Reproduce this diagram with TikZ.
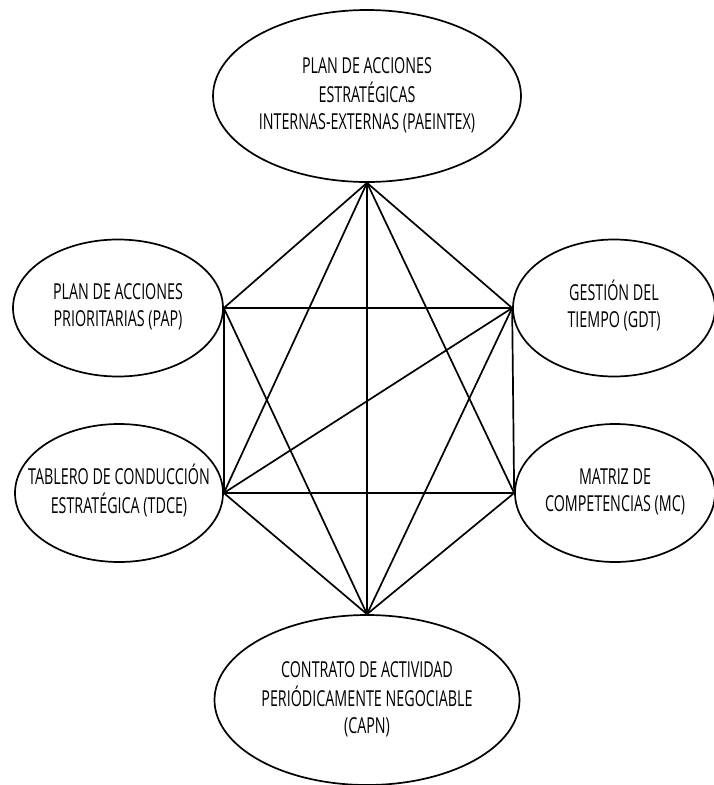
\documentclass[tikz,border=0pt]{standalone}
\usepackage{fontspec}
\setmainfont[FakeStretch=0.65]{Open Sans}
\usetikzlibrary{shapes.geometric}
\newcommand{\etiq}[1]{\makebox[0pt]{\begin{tabular}{@{}c@{}}#1\end{tabular}}}
\begin{document}
\begin{tikzpicture}[x=1pt, y=-1pt, line width=1.7pt,
    herr/.style={draw, ellipse, inner sep=0pt, font=\fontsize{22}{27}\selectfont}]
    \useasboundingbox (0,0) rectangle (713,785);

    \node[herr, minimum width=308pt, minimum height=172pt] (paeintex) at (367,96)
        {\etiq{PLAN DE ACCIONES\\ESTRATÉGICAS\\INTERNAS-EXTERNAS (PAEINTEX)}};
    \node[herr, minimum width=210pt, minimum height=137pt] (pap) at (118,308)
        {\etiq{PLAN DE ACCIONES\\PRIORITARIAS (PAP)}};
    \node[herr, minimum width=202pt, minimum height=137pt] (gdt) at (614,308)
        {\etiq{GESTIÓN DEL\\TIEMPO (GDT)}};
    \node[herr, minimum width=208pt, minimum height=138pt] (tdce) at (119,493)
        {\etiq{TABLERO DE CONDUCCIÓN\\ESTRATÉGICA (TDCE)}};
    \node[herr, minimum width=200pt, minimum height=138pt] (mc) at (615,493)
        {\etiq{MATRIZ DE\\COMPETENCIAS (MC)}};
    \node[herr, minimum width=305pt, minimum height=170pt] (capn) at (367,700)
        {\etiq{CONTRATO DE ACTIVIDAD\\PERIÓDICAMENTE NEGOCIABLE\\(CAPN)}};

    \foreach \a/\b in {paeintex.south/pap.east, paeintex.south/gdt.west,
        paeintex.south/tdce.east, paeintex.south/mc.west, paeintex.south/capn.north,
        pap.east/gdt.west, pap.east/tdce.east, gdt.west/mc.west, tdce.east/mc.west,
        tdce.east/gdt.west, pap.east/capn.north, gdt.west/capn.north,
        tdce.east/capn.north, mc.west/capn.north}
    {
        \draw (\a)--(\b);
    }
\end{tikzpicture}
\end{document}
